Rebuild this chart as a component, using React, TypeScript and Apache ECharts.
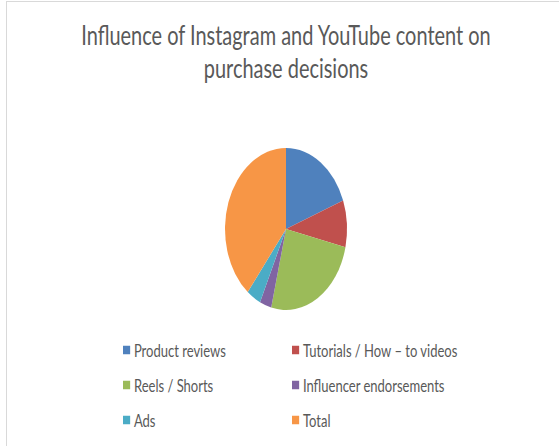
import React, { useEffect, useRef } from "react";
import * as echarts from "echarts";

const titleLines = ["Influence of Instagram and YouTube content on", "purchase decisions"];
const categories = [
  "Product reviews",
  "Tutorials / How – to videos",
  "Reels / Shorts",
  "Influencer endorsements",
  "Ads",
  "Total",
];
const values = [19.3, 9.3, 25.3, 3.1, 3.8, 39.2];
const colors = ["#4F81BD", "#C0504D", "#9BBB59", "#8064A2", "#4BACC6", "#F79646"];
const leftLegend = [categories[0], categories[2], categories[4]];
const rightLegend = [categories[1], categories[3], categories[5]];

const SX = 0.753;
const W = 559;
const H = 446;
const UW = W / SX;

export default function App() {
  const ref = useRef<HTMLDivElement>(null);
  useEffect(() => {
    if (!ref.current) return;
    const chart = echarts.init(ref.current, undefined, { renderer: "svg" });
    const legendCommon = {
      orient: "vertical",
      icon: "rect",
      itemWidth: 9.5,
      itemHeight: 8.5,
      itemGap: 17,
      padding: 0,
      selectedMode: false,
      textStyle: { fontFamily: "Lato", fontSize: 17.3, lineHeight: 18, color: "#595959" },
      top: 341,
    };
    chart.setOption({
      animation: false,
      color: colors,
      title: {
        text: titleLines.join("\n"),
        left: 286 / SX,
        textAlign: "center",
        top: 18.75,
        padding: 0,
        textStyle: {
          fontFamily: "Lato",
          fontSize: 26.5,
          fontWeight: "normal",
          lineHeight: 32.5,
          color: "#595959",
        },
      },
      legend: [
        { ...legendCommon, left: 123 / SX, data: leftLegend },
        { ...legendCommon, left: 292 / SX, data: rightLegend },
      ],
      series: [
        {
          type: "pie",
          center: [286 / SX, 229],
          radius: 81,
          startAngle: 90,
          clockwise: true,
          label: { show: false },
          labelLine: { show: false },
          silent: true,
          itemStyle: { borderWidth: 0 },
          data: categories.map((name, i) => ({ name, value: values[i] })),
        },
      ],
    });
    return () => chart.dispose();
  }, []);
  return (
    <div style={{ position: "fixed", left: 0, top: 0, width: W, height: H, overflow: "hidden", background: "#fff" }}>
      <div
        ref={ref}
        style={{
          position: "absolute",
          left: 0,
          top: 0,
          width: UW,
          height: H,
          transform: `scaleX(${SX})`,
          transformOrigin: "0 0",
        }}
      />
      <div
        style={{
          position: "absolute",
          left: 6,
          top: 1,
          width: W,
          height: H,
          borderLeft: "1.5px solid #d9d9d9",
          borderTop: "1.5px solid #d9d9d9",
          pointerEvents: "none",
        }}
      />
    </div>
  );
}
